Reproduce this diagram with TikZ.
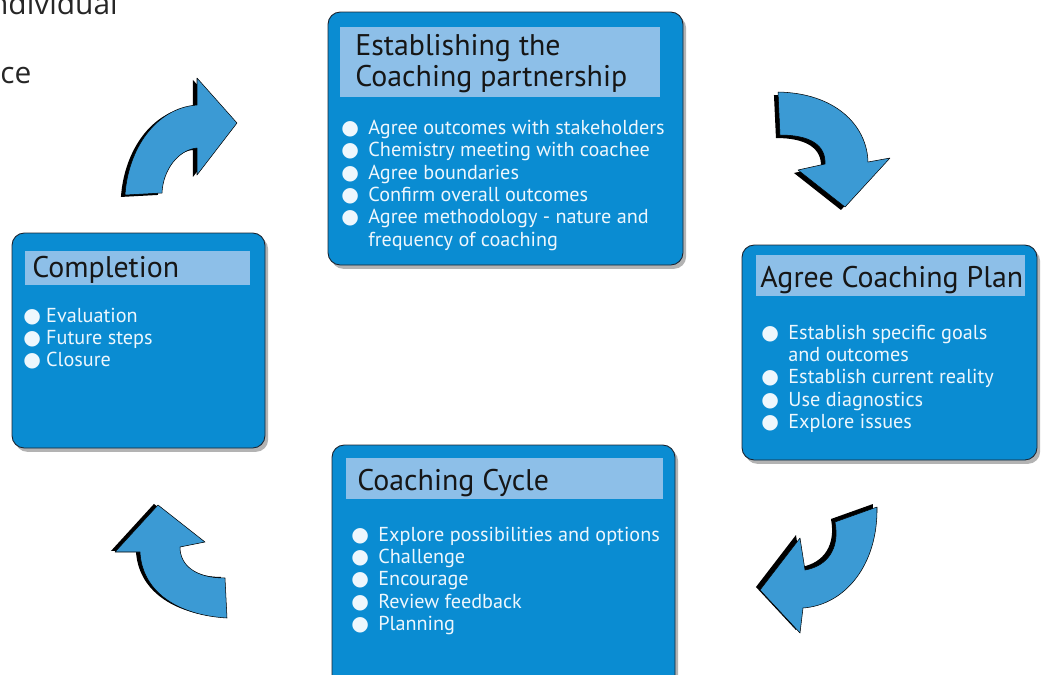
\documentclass[tikz,border=0pt]{standalone}
\usepackage{fontspec}
\setmainfont{PT Sans}
\newfontfamily\pagefont{Open Sans}
\newfontfamily\dotfont{DejaVu Sans}
\usetikzlibrary{fit, shadows}
\definecolor{stagebg}{HTML}{0A8CD2}
\definecolor{bandbg}{HTML}{8DBFE8}
\definecolor{flowbg}{HTML}{3B9AD4}
\definecolor{itemtxt}{HTML}{EEF7FD}
\definecolor{titletxt}{HTML}{161616}
\definecolor{pagetxt}{HTML}{262626}
\definecolor{rim}{HTML}{1C2430}
% white bullet in front of each item
\newcommand{\wdot}[1][15.4pt]{\makebox[#1][l]{{\dotfont\fontsize{11.5}{12}\selectfont ●}}}

\begin{document}
\begin{tikzpicture}[
    x=0.02cm, y=-0.02cm,
    stage/.style={draw=rim, line width=0.5pt, fill=stagebg, rounded corners=7pt, inner sep=0pt,
                  drop shadow={shadow xshift=1.8pt, shadow yshift=-2.2pt, opacity=.4, fill=black!75}},
    band/.style={fill=bandbg, inner sep=0pt},
    heading/.style={anchor=base west, inner sep=0pt, text=titletxt, align=left,
                    font=\fontsize{17}{17.6}\selectfont},
    items/.style={anchor=north west, inner sep=0pt, text=itemtxt, align=left,
                  font=\fontsize{11.5}{12.75}\selectfont},
    pagetext/.style={inner sep=0pt, text=pagetxt, font=\pagefont\fontsize{17}{20}\selectfont},
    flow/.style 2 args={fill=flowbg, draw=black, line width=0.3pt, line join=round,
                        preaction={fill=black, transform canvas={xshift=#1, yshift=#2}}}
]
    \useasboundingbox (0,0) rectangle (1045,674);
    \clip (0,0) rectangle (1045,674);

    % Stage 1: Establishing the partnership
    \node[stage, fit={(328,12) (683,265)}] (s1) {};
    \node[band, fit={(340,27) (660,97)}] (t1) {};
    \node[heading] (h1) at (355,86) {Establishing the\\Coaching partnership};
    \node[items] (l1) at (341,119.5) {\wdot Agree outcomes with stakeholders\\
        \wdot Chemistry meeting with coachee\\
        \wdot Agree boundaries\\
        \wdot Confirm overall outcomes\\
        \wdot Agree methodology - nature and\\
        \hspace{15.4pt}frequency of coaching};

    % Stage 2: Agree Coaching Plan
    \node[stage, fit={(742,245) (1037,460)}] (s2) {};
    \node[band, fit={(756,255) (1025,296)}] (t2) {};
    \node[heading] (h2) at (760,287) {Agree Coaching Plan};
    \node[items] (l2) at (761,324.5) {\wdot Establish specific goals\\
        \hspace{15.4pt}and outcomes\\
        \wdot Establish current reality\\
        \wdot Use diagnostics\\
        \wdot Explore issues};

    % Stage 3: Coaching Cycle
    \node[stage, fit={(332,445) (675,700)}] (s3) {};
    \node[band, fit={(346,458) (663,499)}] (t3) {};
    \node[heading] (h3) at (357,490) {Coaching Cycle};
    \node[items] (l3) at (351,526.5) {\wdot Explore possibilities and options\\
        \wdot Challenge\\
        \wdot Encourage\\
        \wdot Review feedback\\
        \wdot Planning};

    % Stage 4: Completion
    \node[stage, fit={(12,233) (265,448)}] (s4) {};
    \node[band, fit={(25,251) (250,285)}] (t4) {};
    \node[heading] (h4) at (32,277) {Completion};
    \node[items] (l4) at (23,307.5) {\wdot[13pt]Evaluation\\
        \wdot[13pt]Future steps\\
        \wdot[13pt]Closure};

    % curved block arrows between the stages
    \path[flow={-2.3pt}{-1.1pt}] (125,195) .. controls (128,150) and (155,108) .. (197,105)
        -- (197,78) -- (237,123) -- (197,175) -- (197,148)
        .. controls (178,150) and (163,170) .. (162,193) -- cycle;
    \path[flow={-2.3pt}{-1.7pt}] (778,92) .. controls (835,93) and (867,125) .. (868,162)
        -- (890,158) -- (845,207) -- (798,170) -- (825,164)
        .. controls (826,145) and (810,135) .. (780,135) -- cycle;
    \path[flow={-2.3pt}{1.7pt}] (877,507) .. controls (878,565) and (845,605) .. (803,608)
        -- (800,633) -- (760,590) -- (800,538) -- (805,570)
        .. controls (828,566) and (840,548) .. (835,522) -- cycle;
    \path[flow={-2.3pt}{0.6pt}] (227,618) .. controls (175,615) and (142,590) .. (140,552)
        -- (115,552) -- (158,505) -- (205,542) -- (180,547)
        .. controls (180,565) and (195,578) .. (225,578) -- cycle;

    % text of the page running past the left edge
    \node[pagetext, anchor=base east] (pg1) at (118,14) {individual};
    \node[pagetext, anchor=base west] (pg2) at (0,83) {ce};
\end{tikzpicture}
\end{document}
